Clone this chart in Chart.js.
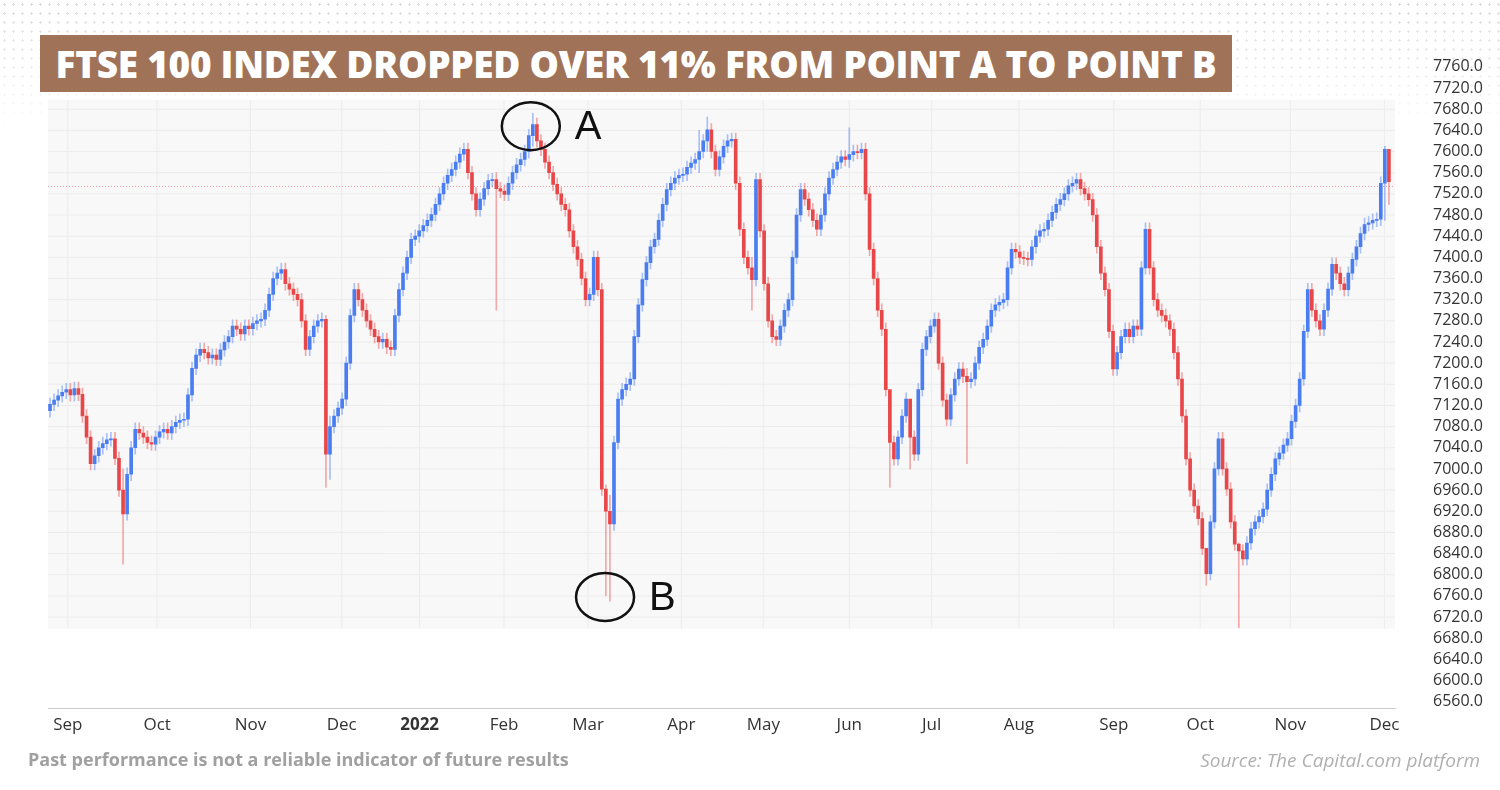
<!DOCTYPE html>
<html><head><meta charset="utf-8">
<script src="https://cdn.jsdelivr.net/npm/chart.js@4/dist/chart.umd.min.js"></script>
<style>
body{margin:0;background:#fff;font-family:"Open Sans",sans-serif;}
#wrap{position:relative;width:1500px;height:790px;overflow:hidden;}
#dots{position:absolute;left:0;top:0;width:1500px;height:130px;
 background-image:radial-gradient(#dcdcdc 1.2px,transparent 1.4px);background-size:9px 9px;
 -webkit-mask-image:linear-gradient(to bottom,#000 0%,transparent 100%);}
#title{position:absolute;left:40px;top:35px;width:1192px;height:57px;background:#a07358;color:#fff;
 font:800 37px "Open Sans",sans-serif;line-height:57px;text-align:center;letter-spacing:-0.3px;}
#foot1{position:absolute;left:28px;top:747px;color:#a0a0a0;font:700 18px "Open Sans",sans-serif;}
#foot2{position:absolute;right:20px;top:747px;color:#b0b0b0;font:italic 19px "Open Sans",sans-serif;}
canvas{position:absolute;left:0;top:0;}
</style></head><body>
<div id="wrap">
<div id="dots"></div>
<canvas id="c" width="1500" height="790"></canvas>
<div id="title">FTSE 100 INDEX DROPPED OVER 11% FROM POINT A TO POINT B</div>
<div id="foot1">Past performance is not a reliable indicator of future results</div>
<div id="foot2">Source: The Capital.com platform</div>
</div>
<script>
const closes = [
7122,7130,7138,7145,7150,7140,7152,7141,7100,7060,
7010,7025,7040,7048,7055,7057,7020,6960,6915,6990,
7040,7075,7068,7060,7050,7047,7060,7070,7075,7068,
7080,7088,7092,7094,7140,7190,7215,7226,7220,7210,
7215,7207,7225,7240,7250,7270,7264,7255,7270,7265,
7275,7280,7283,7300,7330,7360,7370,7377,7350,7340,
7330,7320,7280,7226,7250,7270,7280,7283,7028,7080,
7100,7115,7132,7200,7290,7339,7320,7300,7280,7264,
7250,7240,7245,7230,7226,7290,7339,7370,7400,7434,
7440,7450,7460,7470,7481,7500,7520,7540,7555,7566,
7580,7595,7604,7560,7520,7490,7510,7530,7545,7547,
7530,7525,7519,7540,7560,7575,7585,7600,7630,7651,
7620,7604,7580,7560,7538,7520,7500,7490,7450,7420,
7396,7360,7320,7330,7400,7339,6962,6920,6896,7050,
7132,7150,7160,7170,7250,7310,7358,7390,7420,7434,
7470,7500,7528,7540,7550,7555,7557,7570,7578,7585,
7600,7620,7641,7600,7566,7590,7610,7620,7623,7540,
7453,7400,7380,7358,7547,7450,7350,7280,7250,7245,
7270,7300,7320,7400,7480,7528,7510,7490,7470,7453,
7480,7520,7550,7566,7580,7590,7585,7594,7600,7598,
7604,7520,7415,7360,7300,7264,7150,7050,7019,7060,
7100,7132,7060,7028,7150,7226,7250,7270,7283,7200,
7130,7094,7140,7170,7189,7175,7165,7170,7200,7230,
7245,7270,7300,7310,7315,7320,7380,7415,7410,7400,
7398,7396,7420,7440,7450,7453,7470,7485,7500,7509,
7520,7535,7540,7547,7530,7520,7509,7480,7420,7370,
7339,7260,7189,7220,7250,7264,7250,7270,7264,7380,
7453,7380,7320,7300,7290,7280,7264,7220,7170,7100,
7019,6960,6930,6906,6850,6802,6900,7000,7057,7000,
6962,6900,6858,6845,6830,6860,6887,6900,6910,6924,
6960,6990,7019,7030,7045,7057,7090,7120,7170,7260,
7339,7300,7280,7264,7300,7340,7387,7370,7350,7339,
7370,7396,7420,7445,7462,7465,7470,7472,7540,7604,
7543];
const firstOpen = 7110;
// notable long wicks: index -> [high, low]
const bigWicks = {18:[7000,6820],68:[7290,6965],69:[7100,6980],110:[7560,7300],119:[7672,7610],
 137:[6970,6760],138:[6950,6750],160:[7640,7560],162:[7665,7600],173:[7400,7300],197:[7645,7570],
 207:[7080,6965],212:[7100,7000],226:[7190,7010],285:[6850,6780],293:[6860,6700],329:[7610,7470],330:[7560,7500]};
const monthPos = [4.4,26.4,49.4,71.9,91.1,111.9,132.6,155.6,175.8,197,217.3,238.8,262.2,283.5,305.7,328.9];
const monthNames = ["Sep","Oct","Nov","Dec","2022","Feb","Mar","Apr","May","Jun","Jul","Aug","Sep","Oct","Nov","Dec"];
const priceTicks = [];
for (let v = 6560; v <= 7760; v += 40) priceTicks.push(v);
const lastPrice = 7534;

const bodies = [], wicks = [], bodyCol = [], wickCol = [];
closes.forEach((c, i) => {
	const o = i === 0 ? firstOpen : closes[i - 1];
	const w = bigWicks[i];
	const hi = w ? w[0] : Math.max(o, c) + 12;
	const lo = w ? w[1] : Math.min(o, c) - 12;
	const up = c >= o;
	bodies.push({x: i, y: [o, c === o ? c + 2 : c]});
	wicks.push({x: i, y: [lo, hi]});
	bodyCol.push(up ? "#4a7df0" : "#e8474a");
	wickCol.push(up ? "rgba(74,125,240,0.45)" : "rgba(232,71,74,0.45)");
});

const extras = {
	id: "extras",
	beforeDatasetsDraw(chart) {
		const {ctx, chartArea: a, scales: {x, y}} = chart;
		ctx.save();
		ctx.fillStyle = "#f8f8f8";
		ctx.fillRect(a.left, y.getPixelForValue(7698), a.right - a.left, y.getPixelForValue(6698) - y.getPixelForValue(7698));
		ctx.strokeStyle = "#ececec"; ctx.lineWidth = 1;
		priceTicks.forEach(v => { const py = y.getPixelForValue(v); if (py > y.getPixelForValue(7698) && py < y.getPixelForValue(6698)) { ctx.beginPath(); ctx.moveTo(a.left, py); ctx.lineTo(a.right, py); ctx.stroke(); } });
		monthPos.forEach(p => { const px = x.getPixelForValue(p); ctx.beginPath(); ctx.moveTo(px, y.getPixelForValue(7698)); ctx.lineTo(px, y.getPixelForValue(6698)); ctx.stroke(); });
		ctx.strokeStyle = "rgba(232,71,74,0.5)"; ctx.setLineDash([1, 2]);
		const ly = y.getPixelForValue(lastPrice);
		ctx.beginPath(); ctx.moveTo(a.left, ly); ctx.lineTo(a.right, ly); ctx.stroke();
		ctx.restore();
	},
	afterDatasetsDraw(chart) {
		const {ctx, scales: {x, y}} = chart;
		ctx.save();
		ctx.strokeStyle = "#111"; ctx.lineWidth = 2.5; ctx.fillStyle = "#111";
		ctx.font = "40px 'Liberation Sans', sans-serif"; ctx.textBaseline = "middle";
		[[118.5, 7648, "A"], [136.8, 6758, "B"]].forEach(([i, v, t]) => {
			const cx = x.getPixelForValue(i), cy = y.getPixelForValue(v);
			ctx.beginPath(); ctx.ellipse(cx, cy, 29, 24, 0, 0, 2 * Math.PI); ctx.stroke();
			ctx.fillText(t, cx + 44, cy + 2);
		});
		ctx.restore();
	}
};

new Chart(document.getElementById("c"), {
	type: "bar",
	data: {
		datasets: [
			{data: wicks, backgroundColor: wickCol, barThickness: 1, grouped: false, order: 2},
			{data: bodies, backgroundColor: bodyCol, barThickness: 3, grouped: false, order: 1}
		]
	},
	options: {
		responsive: false, animation: false,
		layout: {padding: {left: 48, top: 60, right: 3, bottom: 49}},
		plugins: {legend: {display: false}, tooltip: {enabled: false}},
		scales: {
			x: {
				type: "linear", min: -0.5, max: 331.5, offset: false,
				afterBuildTicks: s => { s.ticks = monthPos.map(v => ({value: v})); },
				ticks: {
					autoSkip: false, maxRotation: 0, color: "#333", padding: 6,
					font: ctx => ({family: "'Open Sans', sans-serif", size: 17, weight: monthNames[ctx.index] === "2022" ? "bold" : "normal"}),
					callback: (v, i) => monthNames[i]
				},
				grid: {display: false, drawTicks: false},
				border: {color: "#ccc"}
			},
			y: {
				position: "right", min: 6547, max: 7773,
				afterBuildTicks: s => { s.ticks = priceTicks.map(v => ({value: v})); },
				afterFit: s => { s.width = 102; },
				ticks: {autoSkip: false, color: "#333", padding: 30, font: {family: "'Open Sans', sans-serif", size: 16}, callback: v => v.toFixed(1)},
				grid: {display: false},
				border: {display: false}
			}
		}
	},
	plugins: [extras]
});
</script>
</body></html>
